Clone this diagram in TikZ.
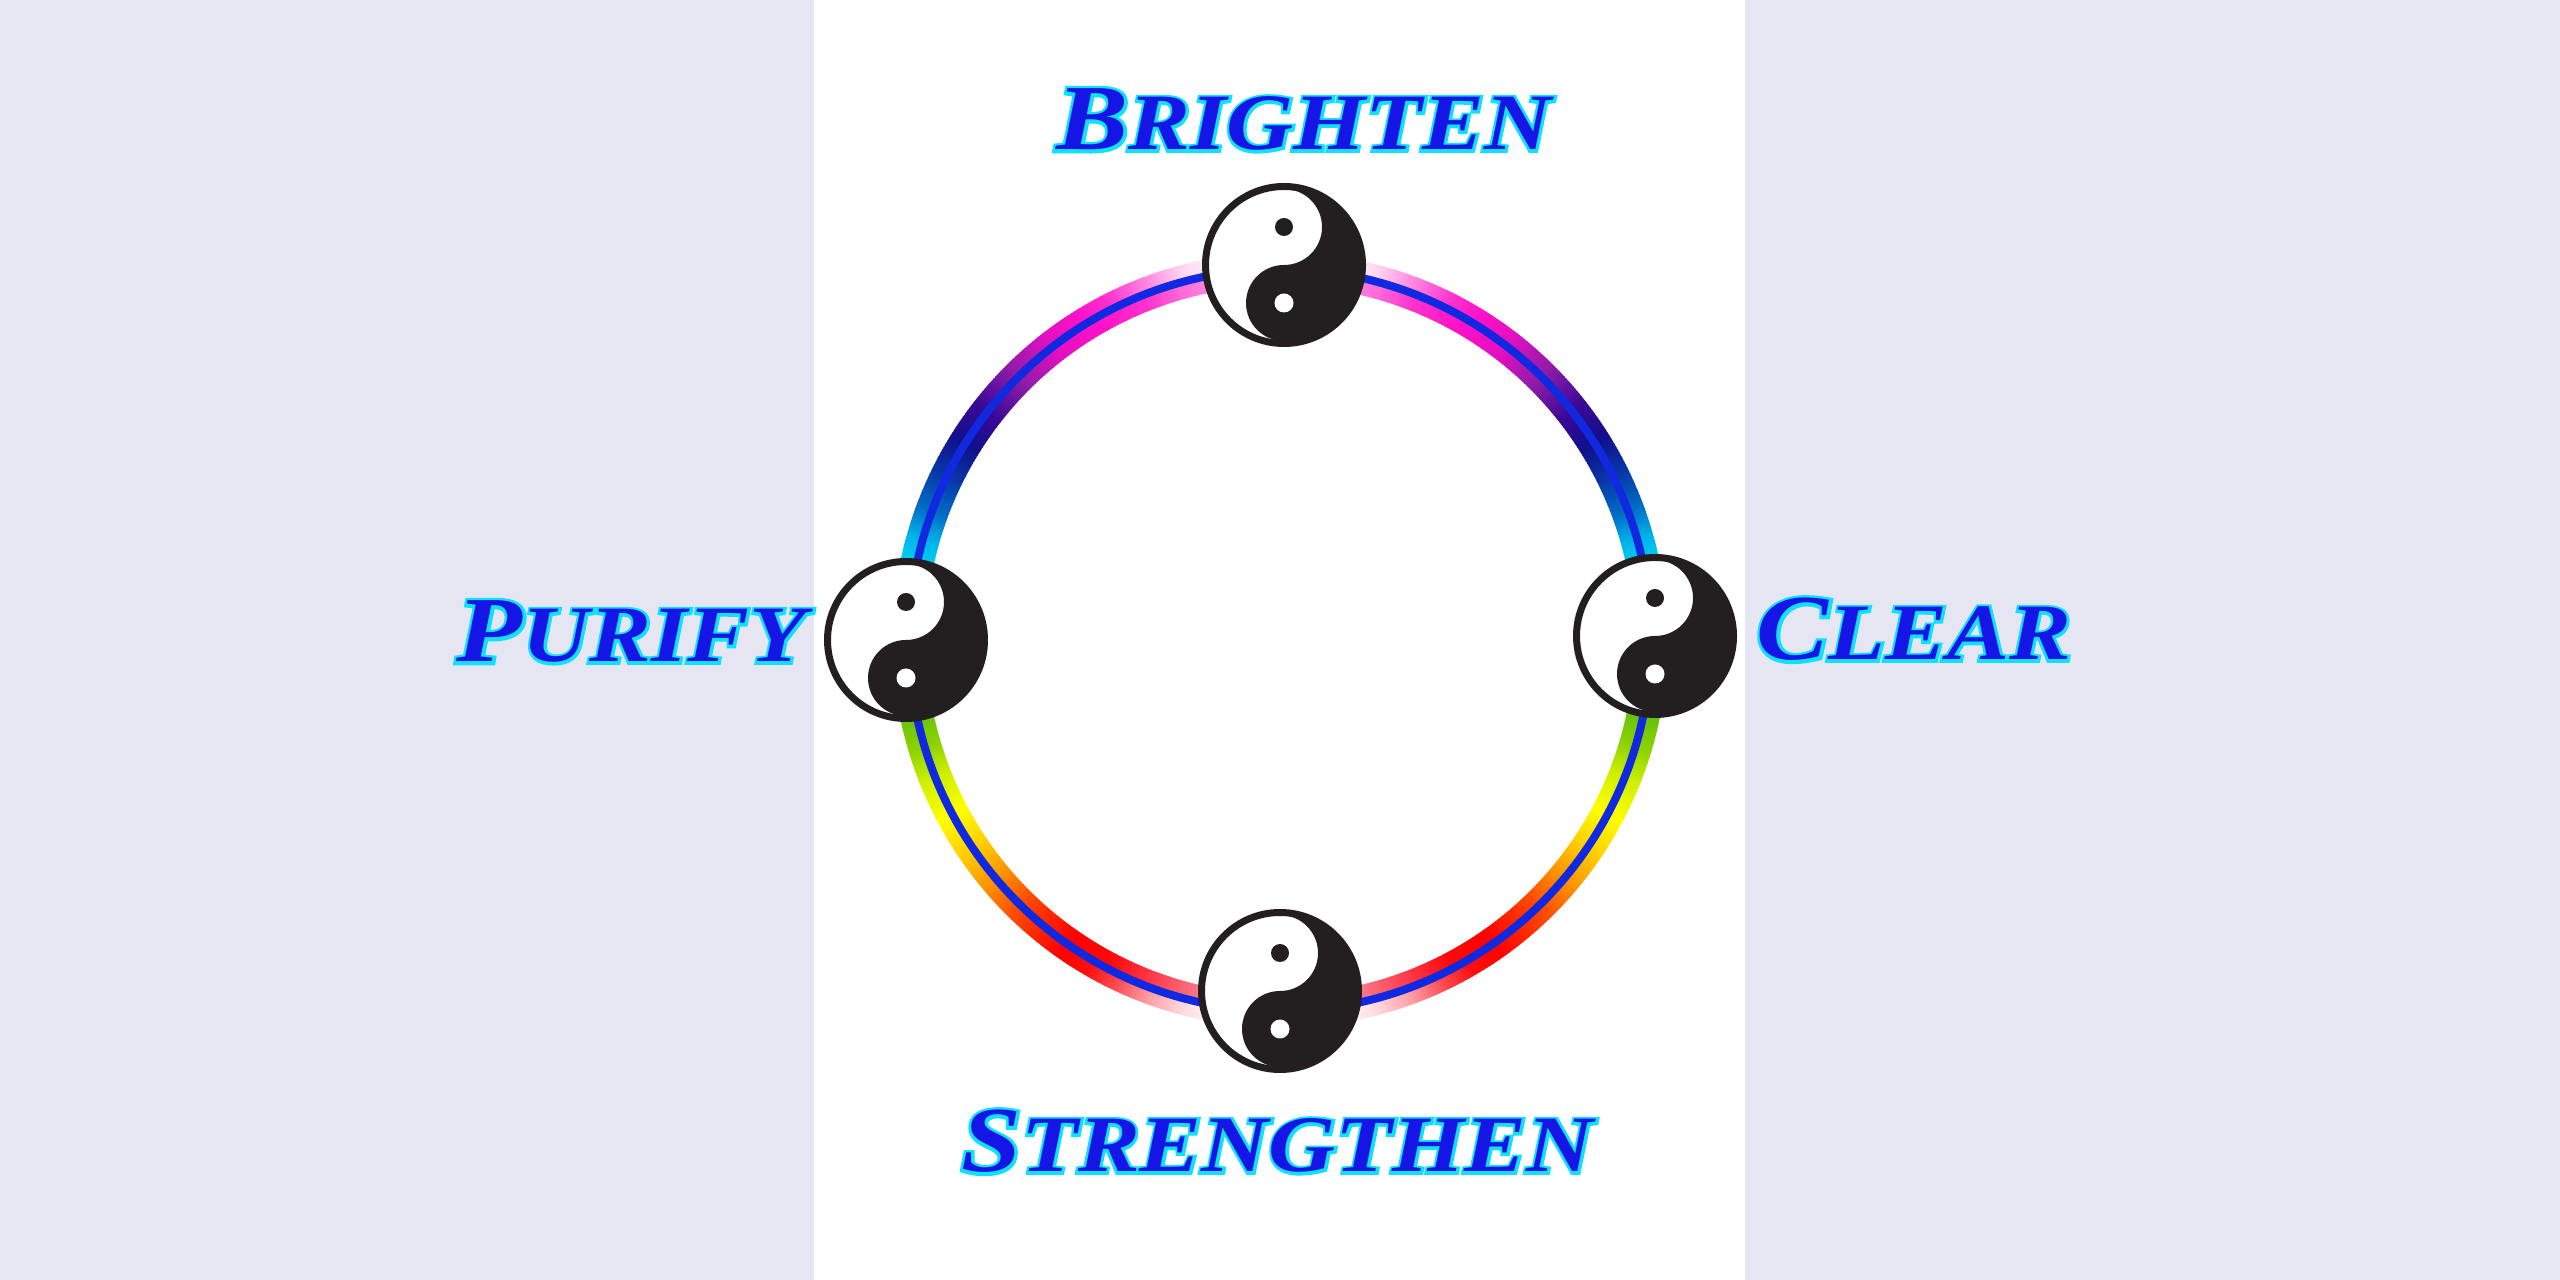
\documentclass[tikz,border=0pt]{standalone}
\usepackage{fontspec}
\newfontfamily\labfont[FakeStretch=1.16]{Liberation Serif}
\newfontfamily\halofont[FakeStretch=1.16, FakeBold=7]{Liberation Serif}
\definecolor{bgl}{HTML}{E6E6F3}
\definecolor{txtblue}{HTML}{1515E5}
\definecolor{txtcyan}{HTML}{10E0FA}
\definecolor{ringblue}{HTML}{1028E0}
\definecolor{yyblack}{HTML}{231F20}
% ring colour stops
\definecolor{t10}{HTML}{FF90E0}
\definecolor{t16}{HTML}{FF68D6}
\definecolor{t22}{HTML}{FF30CE}
\definecolor{o10}{HTML}{FFF2FA}
\definecolor{o15}{HTML}{FFD4F2}
\definecolor{o21}{HTML}{FF80DE}
\definecolor{o27}{HTML}{FF30CE}
\definecolor{m30}{HTML}{FF10C8}
\definecolor{m38}{HTML}{E010C0}
\definecolor{m45}{HTML}{8E1CA8}
\definecolor{m52}{HTML}{3A0898}
\definecolor{m58}{HTML}{10108C}
\definecolor{m64}{HTML}{0838A8}
\definecolor{m70}{HTML}{0070C8}
\definecolor{m74}{HTML}{00B0E8}
\definecolor{m78}{HTML}{00E0F8}
\definecolor{g100}{HTML}{58BC10}
\definecolor{g107}{HTML}{90D400}
\definecolor{g112}{HTML}{D0F000}
\definecolor{g118}{HTML}{FFFF00}
\definecolor{g125}{HTML}{FFC800}
\definecolor{g130}{HTML}{FF9400}
\definecolor{g136}{HTML}{FF4A00}
\definecolor{g145}{HTML}{FF0000}
\definecolor{ib1}{HTML}{FF0808}
\definecolor{ib2}{HTML}{FF3040}
\definecolor{ib3}{HTML}{FF6070}
\definecolor{ib4}{HTML}{FF90A0}
\definecolor{ob1}{HTML}{FF1010}
\definecolor{ob2}{HTML}{FF5058}
\definecolor{ob3}{HTML}{FFA0A8}
\definecolor{ob4}{HTML}{FFE0E4}
\definecolor{ob5}{HTML}{FFF4F6}

% word with a cyan outline: an emboldened cyan copy under the blue text
\newcommand\glowword[1]{%
  \rlap{\halofont\bfseries\itshape\textcolor{txtcyan}{#1}}%
  \textcolor{txtblue}{#1}}
\newcommand\fakesc[2]{{\fontsize{93}{93}\selectfont #1}{\fontsize{80}{80}\selectfont #2}}

% one half of the colour band: radius, list of stops
\newcommand\bandhalf[2]{%
  \foreach \ta/\ca/\tb/\cb in {#2}{%
    \pgfmathtruncatemacro\nseg{ceil((\tb-\ta)/0.5)}%
    \foreach \k in {1,...,\nseg}{%
      \pgfmathsetmacro\tA{\ta+(\k-1)*(\tb-\ta)/\nseg}%
      \pgfmathsetmacro\tB{\ta+\k*(\tb-\ta)/\nseg+0.3}%
      \pgfmathsetmacro\pc{100*(1-(\k-0.5)/\nseg)}%
      \colorlet{segc}{\ca!\pc!\cb}%
      \draw[bandseg] ({1280+#1*cos(90+\tA)},{640+#1*sin(90+\tA)})
         arc[start angle=90+\tA, end angle=90+\tB, radius=#1pt];
      \draw[bandseg] ({1280+#1*cos(90-\tA)},{640+#1*sin(90-\tA)})
         arc[start angle=90-\tA, end angle=90-\tB, radius=#1pt];
    }%
  }%
}

\tikzset{
  bandseg/.style={line width=16.8pt, draw=segc, line cap=butt},
  ringline/.style={line width=8pt, draw=ringblue},
  wordlab/.style={inner sep=0pt, anchor=base, font=\labfont\bfseries\itshape},
  yinyang/.style={circle, minimum size=157pt, inner sep=0pt, line width=7pt,
    draw=yyblack, fill=white,
    path picture={
      \fill[yyblack] ([yshift=76pt]path picture bounding box.center)
        arc[start angle=90, end angle=-90, radius=76pt]
        arc[start angle=-90, end angle=-270, radius=38pt]
        arc[start angle=-90, end angle=90, radius=38pt] -- cycle;
      \fill[yyblack] ([yshift=38pt]path picture bounding box.center) circle[radius=9pt];
      \fill[white] ([yshift=-38pt]path picture bounding box.center) circle[radius=9.5pt];
    }}
}

\begin{document}
\begin{tikzpicture}[x=1pt, y=1pt]
  \useasboundingbox (0,0) rectangle (2560,1280);
  \fill[bgl] (0,0) rectangle (2560,1280);
  \fill[white] (814,0) rectangle (1745,1280);

  \coordinate (ringc) at (1280,640);

  % outer half of band
  \bandhalf{379.25}{10/o10/15/o15, 15/o15/21/o21, 21/o21/27/o27, 27/o27/32/m30,
    32/m30/38/m38, 38/m38/45/m45, 45/m45/52/m52, 52/m52/58/m58, 58/m58/64/m64,
    64/m64/70/m70, 70/m70/74/m74, 74/m74/80/m78,
    100/g100/107/g107, 107/g107/112/g112, 112/g112/118/g118, 118/g118/125/g125,
    125/g125/130/g130, 130/g130/136/g136, 136/g136/145/g145,
    145/g145/150/ob1, 150/ob1/155/ob2, 155/ob2/160/ob3, 160/ob3/166/ob4, 166/ob4/170/ob5}
  % inner half of band
  \bandhalf{362.75}{10/t10/16/t16, 16/t16/22/t22, 22/t22/30/m30,
    30/m30/38/m38, 38/m38/45/m45, 45/m45/52/m52, 52/m52/58/m58, 58/m58/64/m64,
    64/m64/70/m70, 70/m70/74/m74, 74/m74/80/m78,
    100/g100/107/g107, 107/g107/112/g112, 112/g112/118/g118, 118/g118/125/g125,
    125/g125/130/g130, 130/g130/136/g136, 136/g136/145/g145,
    145/g145/152/ib1, 152/ib1/158/ib2, 158/ib2/164/ib3, 164/ib3/170/ib4}

  % thin blue ring
  \draw[ringline] (ringc) circle[radius=371pt];

  % yin-yang nodes
  \node[yinyang] (yyTop) at (1284,1015) {};
  \node[yinyang] (yyLeft) at (906,640) {};
  \node[yinyang] (yyRight) at (1655,644) {};
  \node[yinyang] (yyBottom) at (1280,289) {};

  % words
  \node[wordlab] (wTop) at (1304,1130) {\glowword{\fakesc{B}{RIGHTEN}}};
  \node[wordlab] (wLeft) at (631.5,618) {\glowword{\fakesc{P}{URIFY}}};
  \node[wordlab] (wRight) at (1914,620) {\glowword{\fakesc{C}{LEAR}}};
  \node[wordlab] (wBottom) at (1277.5,108) {\glowword{\fakesc{S}{TRENGTHEN}}};
\end{tikzpicture}
\end{document}
